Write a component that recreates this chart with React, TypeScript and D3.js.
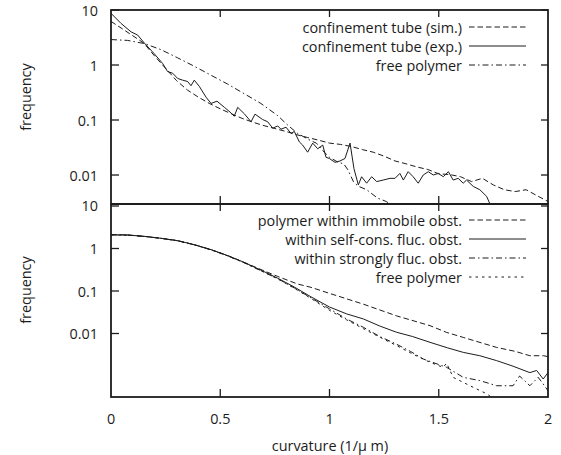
import React from "react";
import * as d3 from "d3";

// ---------- data ----------
const X_TICKS = [0, 0.5, 1, 1.5, 2];
const Y_TICKS = [10, 1, 0.1, 0.01];

// top panel
const simX = [0, 0.05, 0.1, 0.15, 0.2, 0.25, 0.3, 0.35, 0.4, 0.45, 0.5, 0.55, 0.6, 0.65, 0.7, 0.75, 0.8, 0.85, 0.9, 0.95, 1.0, 1.05, 1.1, 1.15, 1.2, 1.25, 1.3, 1.35, 1.4, 1.45, 1.5, 1.55, 1.6, 1.65, 1.7, 1.75, 1.8, 1.85, 1.9, 1.95, 2.0];
const simY = [6.2, 4.6, 3.4, 2.5, 1.45, 0.87, 0.52, 0.35, 0.26, 0.2, 0.16, 0.13, 0.107, 0.091, 0.079, 0.07, 0.062, 0.054, 0.048, 0.043, 0.038, 0.036, 0.033, 0.029, 0.026, 0.022, 0.018, 0.016, 0.014, 0.0126, 0.0105, 0.0102, 0.0093, 0.0076, 0.0087, 0.0066, 0.0054, 0.005, 0.0054, 0.0042, 0.0033];

const expX = [0, 0.046, 0.092, 0.122, 0.153, 0.198, 0.236, 0.259, 0.282, 0.305, 0.328, 0.351, 0.366, 0.381, 0.404, 0.435, 0.458, 0.485, 0.519, 0.549, 0.564, 0.58, 0.61, 0.641, 0.659, 0.694, 0.717, 0.74, 0.763, 0.778, 0.801, 0.824, 0.839, 0.862, 0.877, 0.9, 0.923, 0.946, 0.969, 0.984, 0.999, 1.025, 1.048, 1.071, 1.094, 1.112, 1.132, 1.147, 1.17, 1.193, 1.216, 1.246, 1.277, 1.3, 1.322, 1.338, 1.36, 1.383, 1.406, 1.429, 1.452, 1.475, 1.498, 1.521, 1.544, 1.566, 1.589, 1.612, 1.627, 1.658, 1.688, 1.719, 1.734, 1.75];
const expY = [8.7, 5.7, 4.0, 3.5, 2.5, 1.6, 1.07, 0.76, 0.71, 0.57, 0.53, 0.5, 0.42, 0.53, 0.41, 0.26, 0.2, 0.22, 0.17, 0.135, 0.117, 0.17, 0.13, 0.093, 0.128, 0.102, 0.093, 0.071, 0.078, 0.068, 0.074, 0.057, 0.062, 0.04, 0.035, 0.026, 0.038, 0.03, 0.035, 0.021, 0.02, 0.017, 0.018, 0.02, 0.038, 0.013, 0.0066, 0.0093, 0.0071, 0.0093, 0.0076, 0.0081, 0.0087, 0.0087, 0.0107, 0.0081, 0.0115, 0.0093, 0.0071, 0.01, 0.0115, 0.01, 0.0107, 0.0093, 0.0115, 0.0081, 0.0087, 0.0071, 0.0081, 0.0062, 0.0054, 0.0041, 0.003, 0.002];

const freeTopX = [0, 0.076, 0.153, 0.229, 0.305, 0.381, 0.458, 0.534, 0.61, 0.686, 0.763, 0.81, 0.854, 0.915, 0.94, 0.976, 1.0, 1.04, 1.065, 1.085, 1.11, 1.13, 1.17, 1.22, 1.26, 1.29, 1.32];
const freeTopY = [2.9, 2.8, 2.45, 1.9, 1.35, 0.95, 0.65, 0.45, 0.3, 0.2, 0.12, 0.08, 0.057, 0.042, 0.038, 0.026, 0.021, 0.017, 0.016, 0.0123, 0.0075, 0.0063, 0.0054, 0.0038, 0.0033, 0.0027, 0.0022];

// bottom panel
const immX = [0, 0.076, 0.153, 0.229, 0.305, 0.381, 0.458, 0.534, 0.61, 0.686, 0.763, 0.854, 0.915, 1.0, 1.155, 1.307, 1.46, 1.536, 1.612, 1.765, 1.85, 1.917, 1.98, 2.0];
const immY = [2.12, 2.08, 1.93, 1.74, 1.53, 1.23, 0.94, 0.68, 0.47, 0.32, 0.22, 0.146, 0.122, 0.088, 0.049, 0.026, 0.0153, 0.0106, 0.0081, 0.0047, 0.0038, 0.003, 0.003, 0.00285];

const selfX = [0, 0.076, 0.153, 0.229, 0.305, 0.381, 0.458, 0.534, 0.61, 0.686, 0.763, 0.839, 0.915, 1.0, 1.078, 1.155, 1.23, 1.307, 1.38, 1.46, 1.54, 1.612, 1.688, 1.765, 1.84, 1.917, 1.948, 1.978, 2.0];
const selfY = [2.1, 2.08, 1.93, 1.74, 1.53, 1.23, 0.94, 0.68, 0.47, 0.31, 0.2, 0.124, 0.073, 0.042, 0.029, 0.022, 0.015, 0.0107, 0.0085, 0.0062, 0.0046, 0.0036, 0.003, 0.0023, 0.0017, 0.0012, 0.00135, 0.00085, 0.0012];

const strongX = [0, 0.076, 0.153, 0.229, 0.305, 0.381, 0.458, 0.534, 0.61, 0.686, 0.763, 0.839, 0.915, 1.0, 1.078, 1.155, 1.23, 1.307, 1.37, 1.43, 1.536, 1.612, 1.688, 1.765, 1.84, 1.87, 1.917, 1.955, 1.978, 2.0];
const strongY = [2.1, 2.07, 1.92, 1.73, 1.52, 1.22, 0.93, 0.67, 0.46, 0.3, 0.195, 0.118, 0.069, 0.038, 0.022, 0.014, 0.0085, 0.0056, 0.0038, 0.0025, 0.0016, 0.00093, 0.00078, 0.00059, 0.00059, 0.001, 0.00059, 0.00093, 0.00065, 0.00045];

const freeBotX = [0, 0.076, 0.153, 0.229, 0.305, 0.381, 0.458, 0.534, 0.61, 0.686, 0.763, 0.839, 0.915, 1.0, 1.078, 1.155, 1.23, 1.307, 1.38, 1.46, 1.52, 1.536, 1.566, 1.643, 1.72, 1.765, 1.8];
const freeBotY = [2.08, 2.06, 1.92, 1.73, 1.52, 1.22, 0.93, 0.67, 0.46, 0.3, 0.193, 0.116, 0.067, 0.035, 0.021, 0.013, 0.0082, 0.0052, 0.0033, 0.0021, 0.0016, 0.002, 0.00093, 0.00059, 0.00038, 0.00026, 0.0002];

const topLegend = ["confinement tube (sim.)", "confinement tube (exp.)", "free polymer"];
const botLegend = ["polymer within immobile obst.", "within self-cons. fluc. obst.", "within strongly fluc. obst.", "free polymer"];

// ---------- styles ----------
const INK = "#1c1c1c";
const FONT = "'Open Sans', 'Noto Sans', sans-serif";
const FS = 14.4;
const DASH = {
  dashed: "5.5,3",
  solid: "none",
  dashdot: "6,3,1.5,3",
  dotted: "2.5,4",
};

const W = 561, H = 455;
const L = 111, R = 548;
const TOP0 = 10, MID = 204, BOT1 = 397;

const x = d3.scaleLinear().domain([0, 2]).range([L, R]);
const yTop = d3.scaleLog().domain([10, Math.pow(10, -2.527)]).range([TOP0, MID]);
const yBot = d3.scaleLog().domain([Math.pow(10, 1.047), Math.pow(10, -3.494)]).range([MID, BOT1]);

function pathFor(xs: number[], ys: number[], y: any) {
  const line = d3.line<number>().x((_, i) => x(xs[i])).y((_, i) => y(ys[i]));
  return line(xs.map((_, i) => i)) || "";
}

type Series = { xs: number[]; ys: number[]; dash: string; label: string };

function Panel({ y, y0, y1, series, legendY, clipId, labelY }: any) {
  return (
    <g>
      <defs>
        <clipPath id={clipId}>
          <rect x={L} y={y0} width={R - L} height={y1 - y0} />
        </clipPath>
      </defs>
      <g clipPath={`url(#${clipId})`}>
        {series.map((s: Series, i: number) => (
          <path key={i} d={pathFor(s.xs, s.ys, y)} fill="none" stroke={INK} strokeWidth={1} strokeDasharray={s.dash} />
        ))}
      </g>
      {Y_TICKS.map((t) => (
        <g key={"y" + t}>
          <line x1={L} x2={L + 8} y1={y(t)} y2={y(t)} stroke={INK} strokeWidth={1.3} />
          <line x1={R} x2={R - 7} y1={y(t)} y2={y(t)} stroke={INK} strokeWidth={1.3} />
          <text x={98} y={y(t)} textAnchor="end" dominantBaseline="central" fontSize={FS} fill={INK} fontFamily={FONT}>{String(t)}</text>
        </g>
      ))}
      {X_TICKS.slice(1, -1).map((t) => (
        <g key={"x" + t}>
          <line x1={x(t)} x2={x(t)} y1={y0} y2={y0 + 7} stroke={INK} strokeWidth={1.3} />
          <line x1={x(t)} x2={x(t)} y1={y1} y2={y1 - 8} stroke={INK} strokeWidth={1.3} />
        </g>
      ))}
      <rect x={L} y={y0} width={R - L} height={y1 - y0} fill="none" stroke={INK} strokeWidth={1.8} />
      {series.map((s: Series, i: number) => (
        <g key={"lg" + i}>
          <text x={462} y={legendY[i]} textAnchor="end" dominantBaseline="central" fontSize={FS} fill={INK} fontFamily={FONT}>{s.label}</text>
          <line x1={469} x2={526} y1={legendY[i]} y2={legendY[i]} stroke={INK} strokeWidth={1} strokeDasharray={s.dash} />
        </g>
      ))}
      <text transform={`translate(25,${labelY}) rotate(-90)`} textAnchor="middle" dominantBaseline="central" fontSize={FS} fill={INK} fontFamily={FONT}>frequency</text>
    </g>
  );
}

export default function App() {
  const topSeries: Series[] = [
    { xs: simX, ys: simY, dash: DASH.dashed, label: topLegend[0] },
    { xs: expX, ys: expY, dash: DASH.solid, label: topLegend[1] },
    { xs: freeTopX, ys: freeTopY, dash: DASH.dashdot, label: topLegend[2] },
  ];
  const botSeries: Series[] = [
    { xs: immX, ys: immY, dash: DASH.dashed, label: botLegend[0] },
    { xs: selfX, ys: selfY, dash: DASH.solid, label: botLegend[1] },
    { xs: strongX, ys: strongY, dash: DASH.dashdot, label: botLegend[2] },
    { xs: freeBotX, ys: freeBotY, dash: DASH.dotted, label: botLegend[3] },
  ];
  return (
    <svg width={W} height={H} style={{ position: "absolute", left: 0, top: 0, background: "#fff" }}>
      <rect width={W} height={H} fill="#fff" />
      <Panel y={yTop} y0={TOP0} y1={MID} series={topSeries} legendY={[27, 46, 65]} clipId="clipTop" labelY={97} />
      <Panel y={yBot} y0={MID} y1={BOT1} series={botSeries} legendY={[220, 239, 258, 277]} clipId="clipBot" labelY={290} />
      {X_TICKS.map((t) => (
        <text key={"xl" + t} x={x(t)} y={418} textAnchor="middle" dominantBaseline="central" fontSize={FS} fill={INK} fontFamily={FONT}>{String(t)}</text>
      ))}
      <text x={330} y={445} textAnchor="middle" dominantBaseline="central" fontSize={FS} fill={INK} fontFamily={FONT}>curvature (1/μ m)</text>
    </svg>
  );
}
